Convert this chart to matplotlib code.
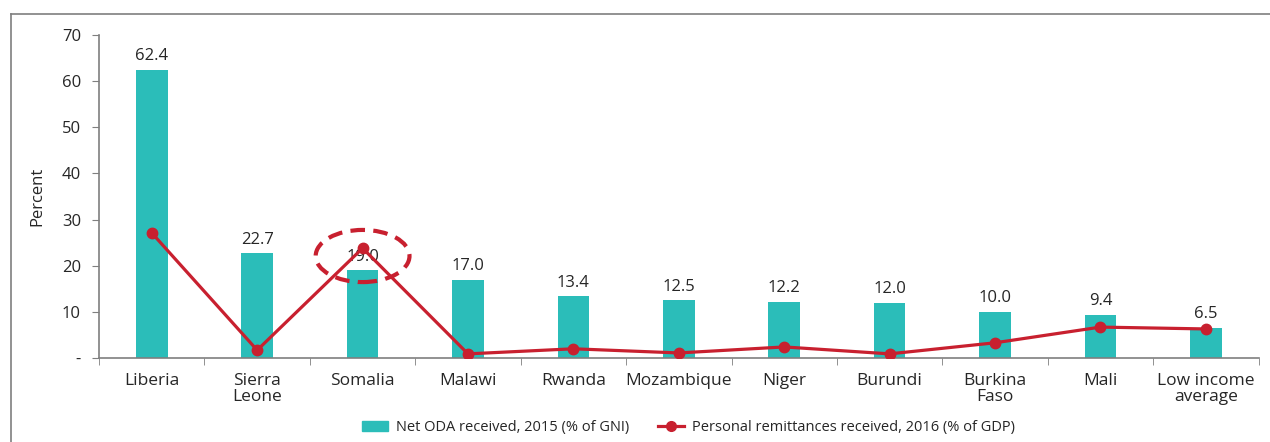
import matplotlib.pyplot as plt
from matplotlib.patches import Ellipse
from matplotlib.lines import Line2D

plt.rcParams['font.family'] = ['Open Sans', 'DejaVu Sans']

countries = ['Liberia', 'Sierra\nLeone', 'Somalia', 'Malawi', 'Rwanda', 'Mozambique',
             'Niger', 'Burundi', 'Burkina\nFaso', 'Mali', 'Low income\naverage']
oda = [62.4, 22.7, 19.0, 17.0, 13.4, 12.5, 12.2, 12.0, 10.0, 9.4, 6.5]
remit = [27.1, 1.7, 23.8, 0.9, 2.0, 1.1, 2.4, 0.9, 3.3, 6.7, 6.3]
yticks = [0, 10, 20, 30, 40, 50, 60, 70]
ytick_labels = ['-', '10', '20', '30', '40', '50', '60', '70']

bar_col = '#2BBDB9'
line_col = '#C8202F'
grey = '#7f7f7f'
txt = '#262626'

fig = plt.figure(figsize=(12.7, 4.42), dpi=100)
ax = fig.add_axes([0.078, 0.19, 0.913, 0.731])

x = list(range(len(countries)))
ax.bar(x, oda, width=0.3, color=bar_col, zorder=2)
ax.plot(x, remit, color=line_col, lw=2.3, marker='o', ms=7.5, zorder=3)

for xi, v in zip(x, oda):
    ax.annotate(f'{v:.1f}', (xi, v), xytext=(0, 4), textcoords='offset points',
                ha='center', va='bottom', fontsize=12, color=txt, zorder=1)

# dashed ellipse around Somalia
ax.add_patch(Ellipse((2, 22.1), 0.89, 11.3, fill=False, ls=(0, (3.5, 2)),
                     lw=3, edgecolor=line_col, zorder=4))

ax.set_xlim(-0.5, len(countries) - 0.5)
ax.set_ylim(0, 70)
ax.set_yticks(yticks)
ax.set_yticklabels(ytick_labels)
ax.set_xticks(x)
ax.set_xticklabels(countries, fontsize=12.5, color=txt, linespacing=0.95)
ax.tick_params(axis='x', length=0, pad=11)
ax.set_xticks([i - 0.5 for i in range(len(countries) + 1)], minor=True)
ax.tick_params(axis='x', which='minor', length=5, color=grey, direction='out')
ax.tick_params(axis='y', labelsize=12, labelcolor=txt, color=grey, length=5, pad=8)
ax.set_ylabel('Percent', fontsize=12, color=txt, labelpad=12)

for s in ['top', 'right']:
    ax.spines[s].set_visible(False)
for s in ['left', 'bottom']:
    ax.spines[s].set_color(grey)
    ax.spines[s].set_linewidth(1.2)

handles = [plt.Rectangle((0, 0), 1, 1, color=bar_col),
           Line2D([0], [0], color=line_col, lw=2.3, marker='o', ms=7)]
labels = ['Net ODA received, 2015 (% of GNI)', 'Personal remittances received, 2016 (% of GDP)']
fig.legend(handles, labels, loc='center', bbox_to_anchor=(0.542, 0.032), ncol=2,
           frameon=False, fontsize=10.5, handlelength=1.8, handleheight=0.7,
           handletextpad=0.5, columnspacing=2.0, labelcolor=txt)

# outer frame of the chart
fig.add_artist(Line2D([11 / 1270, 11 / 1270], [0, 1 - 14 / 442], color=grey, lw=1.2))
fig.add_artist(Line2D([11 / 1270, 1], [1 - 14 / 442, 1 - 14 / 442], color=grey, lw=1.2))

fig.savefig('out.png', dpi=100)
